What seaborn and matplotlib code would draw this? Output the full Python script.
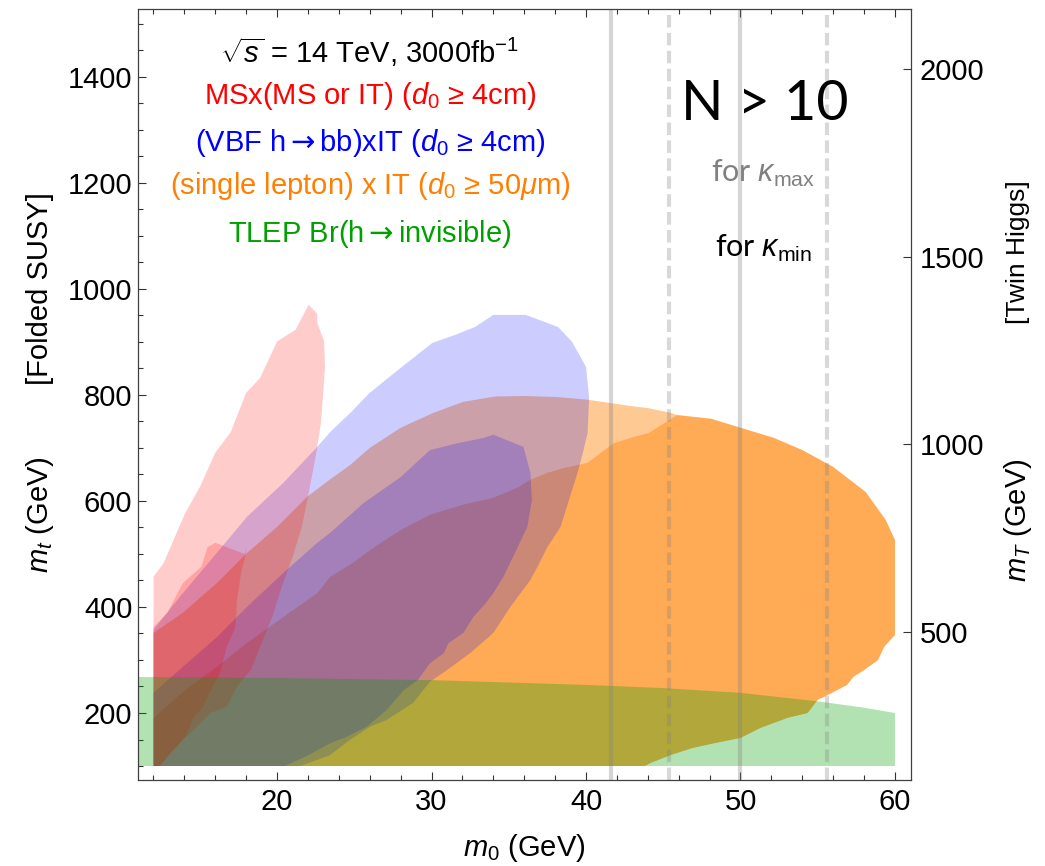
import matplotlib
matplotlib.use("Agg")
import matplotlib.pyplot as plt
import seaborn as sns
from matplotlib.ticker import MultipleLocator
import numpy as np

sns.set_style("ticks")
plt.rcParams['font.family'] = ['Liberation Sans', 'DejaVu Sans']
plt.rcParams['mathtext.fontset'] = 'custom'
plt.rcParams['mathtext.rm'] = 'Liberation Sans'
plt.rcParams['mathtext.it'] = 'Liberation Sans:italic'
plt.rcParams['mathtext.bf'] = 'Liberation Sans:bold'
plt.rcParams['mathtext.sf'] = 'DejaVu Sans'
plt.rcParams['text.color'] = 'black'
plt.rcParams['axes.labelcolor'] = 'black'

# ---- region outlines (m0 in GeV, m_t in GeV) ----
# MS x (MS or IT), kappa_max / kappa_min
red_max_x = [12, 12, 12.64, 14.05, 15.0, 16.0, 17.0, 18.0, 18.9, 20.0, 21.2, 22.04, 22.6, 22.6,
             23.05, 23.1, 22.97, 22.84, 22.5, 22.0, 21.6, 21.0, 20.3, 19.7, 19.0, 18.3, 17.4,
             16.75, 15.7, 14.8, 13.9, 13.1, 12.4]
red_max_y = [100, 457, 482, 577, 626, 691, 730, 804, 832, 901, 923, 970, 953, 936,
             901, 851, 797, 747, 684, 608, 551, 494, 438, 382, 332, 281, 250,
             212, 200, 174, 149, 125, 100]
red_min_x = [12, 12, 12.9, 13.9, 15.1, 15.5, 16.0, 17.9, 18.05, 17.9, 17.7, 17.4, 17.3, 16.75,
             16.3, 15.7, 15.2, 14.6, 14.05, 13.5, 12.9, 12.4]
red_min_y = [100, 362, 389, 445, 476, 513, 521, 500, 513, 490, 470, 413, 362, 325,
             275, 243, 211, 192, 155, 136, 117, 100]

# (VBF h->bb) x IT
blue_max_x = [12, 12, 13.9, 16.1, 18.05, 20.4, 22.6, 23.44, 24.74, 26, 28, 30.05, 31.5, 32.8,
              34, 36.1, 38.2, 39.1, 40, 40.2, 40.1, 39.8, 39.45, 38.9, 38.35, 37.5, 36.86,
              36.4, 35.1, 34, 32.5, 31, 29.9, 28.8, 27.1, 26, 24.7, 23.4, 21.5]
blue_max_y = [100, 357, 426, 502, 570, 634, 702, 730, 766, 804, 851, 898, 913, 928,
              951, 951, 928, 900, 853, 796, 728, 691, 653, 602, 551, 513, 476,
              451, 400, 351, 313, 281, 259, 219, 187, 174, 149, 120, 100]
blue_min_x = [12, 12, 13.9, 16.1, 18.05, 20.4, 22.6, 23.44, 25.6, 28, 29.9, 31.7, 33.4, 34,
              35.95, 36.4, 36.5, 36.2, 35.4, 34.65, 34, 33.5, 32.7, 32.06, 31.1, 30.8, 29.9,
              29.1, 28.2, 27.1, 25.8, 24.5, 23.44, 22, 20.5]
blue_min_y = [100, 238, 287, 343, 400, 464, 521, 540, 596, 645, 696, 709, 719, 725,
              702, 653, 602, 551, 502, 457, 426, 407, 381, 351, 332, 313, 294,
              262, 243, 206, 174, 155, 143, 120, 100]

# (single lepton) x IT
orange_max_x = [12, 12, 13.9, 16.1, 18.06, 20, 21.95, 23.4, 24.74, 26, 28, 30.1, 32.06, 34.1,
                35.95, 38.15, 40.1, 42.9, 44.05, 45.5, 45.9, 48.1, 50, 52.15, 54, 56, 58.1,
                59.4, 60, 60, 59.3, 58.9, 58, 57.3, 56.9, 55.65, 55, 54.35, 53.06, 51.3, 50,
                48.3, 46.9, 45.5, 44.2, 43.8]
orange_max_y = [100, 351, 389, 445, 502, 551, 608, 640, 668, 700, 738, 766, 787, 797,
                798, 796, 791, 779, 775, 766, 762, 755, 738, 719, 696, 664, 617,
                564, 526, 347, 325, 300, 281, 268, 253, 234, 225, 200, 191, 172, 153,
                143, 134, 121, 106, 100]
orange_min_x = [12, 12, 13.9, 16.1, 18.05, 20.4, 22.6, 23.44, 24.74, 26.2, 28, 29.9, 32.06, 34,
                35.56, 36.4, 37.5, 38.55, 40.1, 41.8, 42.9, 44.05, 45.9, 48.1, 50, 52.15, 54,
                56, 58.1, 59.4, 60, 60, 59.3, 58.9, 58, 57.3, 56.9, 55.65, 55, 54.35, 53.06,
                51.3, 50, 48.3, 46.9, 45.5, 44.2, 43.8]
orange_min_y = [100, 190, 240, 287, 332, 381, 426, 457, 480, 511, 545, 574, 593, 606,
                625, 640, 653, 662, 672, 709, 719, 728, 762, 755, 738, 719, 696,
                664, 617, 564, 526, 347, 325, 300, 281, 268, 253, 234, 225, 200, 191,
                172, 153, 143, 134, 121, 106, 100]

# TLEP Br(h -> invisible)
green_x = [11, 20, 30, 40, 45, 50, 55, 58, 60, 60, 11]
green_y = [268, 266, 262, 253, 247, 238, 222, 210, 200, 100, 100]

# kappa lines
kappa_solid = [41.64, 50.0]
kappa_dashed = [45.4, 55.57]

# ---- figure ----
fig = plt.figure(figsize=(10.45, 8.66), dpi=100)
ax = fig.add_axes([0.1321, 0.0993, 0.7397, 0.8903])

ax.fill(orange_max_x, orange_max_y, color=(1.0, 0.5, 0.0), alpha=0.42, lw=0)
ax.fill(orange_min_x, orange_min_y, color=(1.0, 0.5, 0.0), alpha=0.42, lw=0)
ax.fill(blue_max_x, blue_max_y, color=(0, 0, 1), alpha=0.2, lw=0)
ax.fill(blue_min_x, blue_min_y, color=(0, 0, 1), alpha=0.2, lw=0)
ax.fill(red_max_x, red_max_y, color=(1, 0, 0), alpha=0.2, lw=0)
ax.fill(red_min_x, red_min_y, color=(1, 0, 0), alpha=0.2, lw=0)
ax.fill(green_x, green_y, color=(0, 0.63, 0), alpha=0.3, lw=0)

for xv in kappa_solid:
    ax.axvline(xv, color='0.5', alpha=0.33, lw=3)
for xv in kappa_dashed:
    ax.axvline(xv, color='0.5', alpha=0.3, lw=3, ls=(0, (3, 1.3)))

ax.set_xlim(11, 61.04)
ax.set_ylim(73.6, 1528)
ax.xaxis.set_major_locator(MultipleLocator(10))
ax.xaxis.set_minor_locator(MultipleLocator(2))
ax.yaxis.set_major_locator(MultipleLocator(200))
ax.yaxis.set_minor_locator(MultipleLocator(50))
ax.tick_params(which='both', direction='in', top=True, right=False, width=0.8, color='0.2',
               labelsize=21, labelcolor='black')
ax.tick_params(which='major', length=6)
ax.tick_params(which='minor', length=3.5)
ax.tick_params(axis='x', pad=6)
ax.tick_params(axis='y', pad=4)
for s in ax.spines.values():
    s.set_color('0.25')
    s.set_linewidth(0.9)

ax2 = ax.twinx()
ax2.set_ylim(np.sqrt(2) * 73.6, np.sqrt(2) * 1528)
ax2.yaxis.set_major_locator(MultipleLocator(500))
ax2.tick_params(direction='in', length=6, width=0.8, color='0.2', labelsize=21, pad=6,
                labelcolor='black')
for s in ax2.spines.values():
    s.set_visible(False)

# axis labels
ax.set_xlabel('$m_0$ (GeV)', fontsize=21, labelpad=11)
ax.text(-0.127, 0.344, '$m_t$ (GeV)', rotation=90, ha='center', va='center',
        fontsize=21, transform=ax.transAxes)
ax.text(-0.127, 0.638, '[Folded SUSY]', rotation=90, ha='center', va='center',
        fontsize=21, transform=ax.transAxes)
ax.text(1.138, 0.337, '$m_T$ (GeV)', rotation=90, ha='center', va='center',
        fontsize=21, transform=ax.transAxes)
ax.text(1.138, 0.685, '[Twin Higgs]', rotation=90, ha='center', va='center',
        fontsize=19, transform=ax.transAxes)

# legend-style labels
arrow = r'$\mathsf{\rightarrow}$'
tx = 0.300
fs = 21
ax.text(tx, 0.930, r'$\sqrt{s}$ = 14 TeV, 3000fb$^{-1}$', ha='center', va='baseline',
        fontsize=fs, color='black', transform=ax.transAxes)
ax.text(tx, 0.877, r'MSx(MS or IT) ($d_0$ ≥ 4cm)', ha='center', va='baseline',
        fontsize=fs, color='#ff0000', transform=ax.transAxes)
ax.text(tx, 0.816, '(VBF h' + arrow + r'bb)xIT ($d_0$ ≥ 4cm)', ha='center', va='baseline',
        fontsize=fs, color='#0000ff', transform=ax.transAxes)
ax.text(tx, 0.760, r'(single lepton) x IT ($d_0$ ≥ 50$\mu$m)', ha='center', va='baseline',
        fontsize=fs, color='#ff8000', transform=ax.transAxes)
ax.text(tx, 0.698, 'TLEP Br(h' + arrow + 'invisible)', ha='center', va='baseline',
        fontsize=fs, color='#00a000', transform=ax.transAxes)

ax.text(0.811, 0.856, 'N > 10', ha='center', va='baseline', fontsize=40,
        family='Lato', color='black', transform=ax.transAxes)
ax.text(0.809, 0.776, r'for $\kappa_{\mathrm{max}}$', ha='center', va='baseline', fontsize=22,
        family='Lato', color='0.5', transform=ax.transAxes)
ax.text(0.809, 0.678, r'for $\kappa_{\mathrm{min}}$', ha='center', va='baseline', fontsize=22,
        family='Lato', color='black', transform=ax.transAxes)

fig.savefig('out.png', dpi=100)
